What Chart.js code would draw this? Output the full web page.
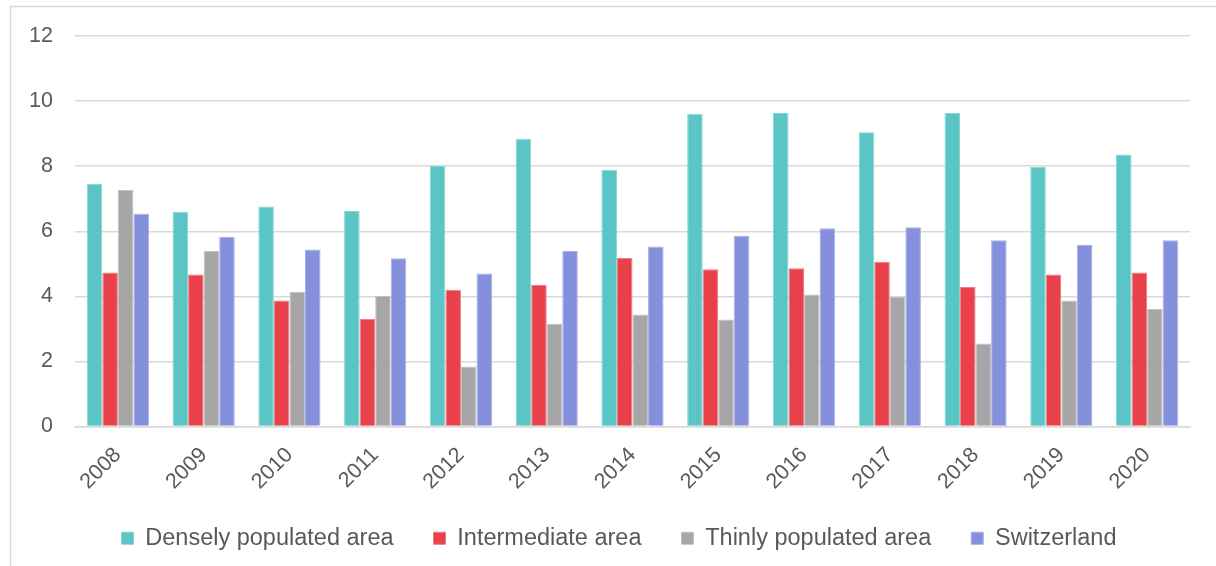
<!DOCTYPE html>
<html>
<head>
<meta charset="utf-8">
<script src="https://cdn.jsdelivr.net/npm/chart.js@4/dist/chart.umd.min.js"></script>
<style>
  html, body { margin: 0; padding: 0; background: #ffffff; }
  #wrap { width: 1216px; height: 566px; position: relative; }
</style>
</head>
<body>
<div id="wrap"><canvas id="areaChart"></canvas></div>
<script>
const years = ['2008', '2009', '2010', '2011', '2012', '2013', '2014', '2015', '2016', '2017', '2018', '2019', '2020'];
const densely = [7.46, 6.60, 6.76, 6.62, 8.01, 8.84, 7.89, 9.61, 9.63, 9.04, 9.63, 7.98, 8.36];
const intermediate = [4.73, 4.67, 3.87, 3.31, 4.20, 4.35, 5.18, 4.83, 4.86, 5.06, 4.29, 4.67, 4.73];
const thinly = [7.27, 5.39, 4.14, 4.01, 1.84, 3.15, 3.44, 3.29, 4.06, 3.99, 2.55, 3.87, 3.61];
const switzerland = [6.54, 5.83, 5.44, 5.17, 4.70, 5.39, 5.53, 5.86, 6.09, 6.12, 5.72, 5.58, 5.72];
const yTicks = [0, 2, 4, 6, 8, 10, 12];

const textColor = '#595959';
const gridColor = '#d9d9d9';
const fontFamily = '"Liberation Sans", Arial, sans-serif';

// outer frame of the chart, cut off at the right and bottom like the reference
const framePlugin = {
  id: 'frame',
  beforeDraw(chart) {
    const ctx = chart.ctx;
    ctx.save();
    ctx.strokeStyle = gridColor;
    ctx.lineWidth = 1.5;
    ctx.strokeRect(10.5, 6.5, 1400, 800);
    ctx.restore();
  }
};

// legend sits a bit right of the canvas centre in the reference;
// the x scale box is stretched so the rotated year labels are not clipped
const layoutTweaks = {
  id: 'layoutTweaks',
  afterLayout(chart) {
    if (chart.legend) {
      chart.legend.left += 24;
      chart.legend.right += 24;
    }
    chart.scales.x.bottom += 40;
  }
};

function series(label, data, color, edge) {
  return {
    label,
    data,
    backgroundColor: color,
    borderColor: edge,
    borderWidth: 1,
    categoryPercentage: 0.725,
    barPercentage: 1.0,
  };
}

new Chart(document.getElementById('areaChart'), {
  type: 'bar',
  data: {
    labels: years,
    datasets: [
      series('Densely populated area', densely, '#5bc5c6', '#84d6d6'),
      series('Intermediate area', intermediate, '#e8414a', '#f07a80'),
      series('Thinly populated area', thinly, '#a6a6a6', '#c2c2c2'),
      series('Switzerland', switzerland, '#8490db', '#a7afe6'),
    ]
  },
  options: {
    responsive: true,
    maintainAspectRatio: false,
    animation: false,
    layout: { padding: { top: 36, right: 26, bottom: 6, left: 0 } },
    plugins: {
      legend: {
        position: 'bottom',
        labels: {
          color: textColor,
          font: { family: fontFamily, size: 23.5 },
          boxWidth: 12,
          boxHeight: 12,
          padding: 40,
        }
      },
      tooltip: { enabled: false }
    },
    scales: {
      x: {
        grid: { display: false },
        border: { color: gridColor, width: 1.5 },
        ticks: {
          color: textColor,
          font: { family: fontFamily, size: 21.5 },
          maxRotation: 45,
          minRotation: 45,
          padding: 8,
        },
        afterFit(scale) { scale.height = 60; }
      },
      y: {
        min: 0,
        max: 12,
        afterBuildTicks(scale) { scale.ticks = yTicks.map(v => ({ value: v })); },
        grid: { color: gridColor, lineWidth: 1.5, drawTicks: false },
        border: { display: false },
        ticks: {
          color: textColor,
          font: { family: fontFamily, size: 21.5 },
          padding: 22,
        },
        afterFit(scale) { scale.width = 75; }
      }
    }
  },
  plugins: [framePlugin, layoutTweaks]
});
</script>
</body>
</html>
